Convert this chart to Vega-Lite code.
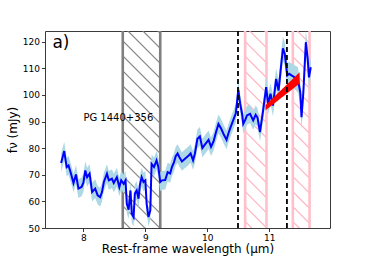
{
"$schema": "https://vega.github.io/schema/vega-lite/v6.json",
"width": 285, "height": 197,
"autosize": {"type": "none"},
"padding": {"left": 45, "top": 31, "right": 37, "bottom": 28},
"config": {
 "font": "DejaVu Sans",
 "view": {"stroke": "#3a3a3a", "strokeWidth": 1},
 "axis": {"domain": false, "grid": false, "tickColor": "#222", "tickSize": 3.5, "tickWidth": 0.9, "labelFontSize": 9, "labelColor": "#000", "titleFontSize": 12, "titleFontWeight": "normal", "titleColor": "#000", "labelPadding": 2, "labelOverlap": false}
},
"datasets": {
 "spec": [
  {"w":7.64,"f":74.4,"e":3.5},{"w":7.69,"f":78.9,"e":3.5},{"w":7.73,"f":72.9,"e":3.5},{"w":7.76,"f":73.5,"e":3.5},{"w":7.80,"f":70.4,"e":3.5},
  {"w":7.84,"f":66.9,"e":3.5},{"w":7.88,"f":70.1,"e":3.5},{"w":7.92,"f":64.8,"e":3.5},{"w":7.97,"f":65.4,"e":3.5},{"w":8.00,"f":67.0,"e":3.5},
  {"w":8.03,"f":71.6,"e":3.5},{"w":8.06,"f":69.1,"e":3.5},{"w":8.10,"f":70.4,"e":3.5},{"w":8.14,"f":63.5,"e":3.5},{"w":8.19,"f":64.8,"e":3.5},
  {"w":8.23,"f":62.3,"e":3.5},{"w":8.27,"f":61.6,"e":3.5},{"w":8.30,"f":63.5,"e":3.5},{"w":8.33,"f":67.3,"e":3.5},{"w":8.38,"f":70.4,"e":3.5},
  {"w":8.41,"f":67.9,"e":3.5},{"w":8.46,"f":68.5,"e":3.5},{"w":8.49,"f":66.9,"e":3.5},{"w":8.54,"f":69.1,"e":3.5},{"w":8.58,"f":65.4,"e":3.5},
  {"w":8.61,"f":67.9,"e":3.5},{"w":8.65,"f":66.6,"e":3.5},{"w":8.68,"f":67.9,"e":3.5},{"w":8.70,"f":59.1,"e":3.5},{"w":8.73,"f":56.9,"e":3.5},
  {"w":8.76,"f":64.1,"e":3.5},{"w":8.78,"f":55.4,"e":3.5},{"w":8.81,"f":54.1,"e":3.5},{"w":8.83,"f":62.9,"e":3.5},{"w":8.86,"f":64.1,"e":3.5},
  {"w":8.89,"f":61.0,"e":3.5},{"w":8.91,"f":66.0,"e":3.5},{"w":8.94,"f":69.1,"e":3.5},{"w":8.97,"f":67.3,"e":3.5},{"w":9.00,"f":67.9,"e":3.5},
  {"w":9.02,"f":59.1,"e":3.5},{"w":9.05,"f":54.1,"e":3.5},{"w":9.08,"f":56.6,"e":3.5},{"w":9.10,"f":74.1,"e":3.5},{"w":9.14,"f":72.9,"e":3.5},
  {"w":9.18,"f":75.4,"e":3.5},{"w":9.21,"f":72.9,"e":3.5},{"w":9.24,"f":67.3,"e":3.5},{"w":9.27,"f":67.9,"e":3.5},{"w":9.32,"f":68.0,"e":3.5},
  {"w":9.36,"f":71.0,"e":3.5},{"w":9.40,"f":70.5,"e":3.5},{"w":9.43,"f":73.0,"e":3.5},{"w":9.46,"f":74.5,"e":3.5},{"w":9.49,"f":77.0,"e":3.5},
  {"w":9.52,"f":78.0,"e":3.5},{"w":9.55,"f":76.6,"e":3.5},{"w":9.59,"f":75.0,"e":3.5},{"w":9.64,"f":76.0,"e":3.5},{"w":9.69,"f":77.0,"e":3.5},
  {"w":9.73,"f":78.0,"e":3.5},{"w":9.77,"f":75.4,"e":3.5},{"w":9.80,"f":78.0,"e":3.5},{"w":9.84,"f":83.5,"e":3.5},{"w":9.88,"f":84.4,"e":3.5},
  {"w":9.92,"f":80.0,"e":3.5},{"w":9.96,"f":81.3,"e":3.5},{"w":10.02,"f":83.1,"e":3.5},{"w":10.06,"f":80.5,"e":3.5},{"w":10.10,"f":82.5,"e":3.5},
  {"w":10.14,"f":86.0,"e":3.5},{"w":10.18,"f":89.1,"e":3.5},{"w":10.22,"f":87.5,"e":3.5},{"w":10.26,"f":85.4,"e":3.5},{"w":10.31,"f":83.1,"e":3.5},
  {"w":10.34,"f":85.5,"e":3.5},{"w":10.37,"f":87.5,"e":3.5},{"w":10.42,"f":90.6,"e":3.5},{"w":10.46,"f":93.1,"e":3.5},{"w":10.50,"f":101.9,"e":3.5},
  {"w":10.53,"f":96.6,"e":3.5},{"w":10.56,"f":93.0,"e":3.5},{"w":10.58,"f":89.1,"e":3.5},{"w":10.61,"f":90.5,"e":3.5},{"w":10.64,"f":92.3,"e":3.5},
  {"w":10.69,"f":92.9,"e":3.5},{"w":10.74,"f":90.4,"e":3.5},{"w":10.78,"f":92.5,"e":3.5},{"w":10.81,"f":91.5,"e":3.5},{"w":10.85,"f":86.0,"e":3.5},
  {"w":10.90,"f":94.1,"e":3.5},{"w":10.95,"f":102.9,"e":4},{"w":10.98,"f":96.6,"e":4},{"w":11.02,"f":100.4,"e":4},{"w":11.06,"f":96.0,"e":4},
  {"w":11.11,"f":106.0,"e":4},{"w":11.15,"f":101.6,"e":4},{"w":11.18,"f":108.5,"e":4.5},{"w":11.22,"f":117.5,"e":4.5},{"w":11.25,"f":115.4,"e":4.5},
  {"w":11.29,"f":107.3,"e":4.5},{"w":11.32,"f":107.9,"e":4.5},{"w":11.36,"f":107.3,"e":4.5},{"w":11.41,"f":106.6,"e":4.5},{"w":11.46,"f":106.0,"e":4.5},
  {"w":11.50,"f":101.0,"e":4.5},{"w":11.52,"f":91.6,"e":4.5},{"w":11.55,"f":101.0,"e":4.5},{"w":11.59,"f":119.8,"e":4.5},{"w":11.62,"f":113.5,"e":4.5},
  {"w":11.64,"f":106.6,"e":4.5},{"w":11.67,"f":110.4,"e":3.5}
 ],
 "fit": [{"w":10.94,"lo":94.2,"hi":96.2},{"w":11.49,"lo":104.3,"hi":108.5}],
 "grayreg": [{"x0":8.635,"x1":9.24}],
 "pink1": [{"x0":10.61,"x1":10.955}],
 "pink2": [{"x0":11.38,"x1":11.65}],
 "grayedge": [{"x":8.635},{"x":9.24}],
 "pinkedge": [{"x":10.61},{"x":10.955},{"x":11.38},{"x":11.65}],
 "dash": [{"x":10.495},{"x":11.285}]
},
"layer": [
 {"data": {"name": "grayreg"},
  "mark": {"type": "rect", "fill": {"gradient": "linear", "x1": 0, "y1": 1, "x2": 0.2187, "y2": -0.1487, "stops": [
   {"offset":0.0235,"color":"rgba(128,128,128,0)"},{"offset":0.030,"color":"rgba(128,128,128,1)"},{"offset":0.0365,"color":"rgba(128,128,128,0)"},
   {"offset":0.0875,"color":"rgba(128,128,128,0)"},{"offset":0.094,"color":"rgba(128,128,128,1)"},{"offset":0.1005,"color":"rgba(128,128,128,0)"},
   {"offset":0.1515,"color":"rgba(128,128,128,0)"},{"offset":0.158,"color":"rgba(128,128,128,1)"},{"offset":0.1645,"color":"rgba(128,128,128,0)"},
   {"offset":0.2155,"color":"rgba(128,128,128,0)"},{"offset":0.222,"color":"rgba(128,128,128,1)"},{"offset":0.2285,"color":"rgba(128,128,128,0)"},
   {"offset":0.2795,"color":"rgba(128,128,128,0)"},{"offset":0.286,"color":"rgba(128,128,128,1)"},{"offset":0.2925,"color":"rgba(128,128,128,0)"},
   {"offset":0.3435,"color":"rgba(128,128,128,0)"},{"offset":0.350,"color":"rgba(128,128,128,1)"},{"offset":0.3565,"color":"rgba(128,128,128,0)"},
   {"offset":0.4075,"color":"rgba(128,128,128,0)"},{"offset":0.414,"color":"rgba(128,128,128,1)"},{"offset":0.4205,"color":"rgba(128,128,128,0)"},
   {"offset":0.4715,"color":"rgba(128,128,128,0)"},{"offset":0.478,"color":"rgba(128,128,128,1)"},{"offset":0.4845,"color":"rgba(128,128,128,0)"},
   {"offset":0.5355,"color":"rgba(128,128,128,0)"},{"offset":0.542,"color":"rgba(128,128,128,1)"},{"offset":0.5485,"color":"rgba(128,128,128,0)"},
   {"offset":0.5995,"color":"rgba(128,128,128,0)"},{"offset":0.606,"color":"rgba(128,128,128,1)"},{"offset":0.6125,"color":"rgba(128,128,128,0)"},
   {"offset":0.6635,"color":"rgba(128,128,128,0)"},{"offset":0.670,"color":"rgba(128,128,128,1)"},{"offset":0.6765,"color":"rgba(128,128,128,0)"},
   {"offset":0.7275,"color":"rgba(128,128,128,0)"},{"offset":0.734,"color":"rgba(128,128,128,1)"},{"offset":0.7405,"color":"rgba(128,128,128,0)"},
   {"offset":0.7915,"color":"rgba(128,128,128,0)"},{"offset":0.798,"color":"rgba(128,128,128,1)"},{"offset":0.8045,"color":"rgba(128,128,128,0)"},
   {"offset":0.8555,"color":"rgba(128,128,128,0)"},{"offset":0.862,"color":"rgba(128,128,128,1)"},{"offset":0.8685,"color":"rgba(128,128,128,0)"},
   {"offset":0.9195,"color":"rgba(128,128,128,0)"},{"offset":0.926,"color":"rgba(128,128,128,1)"},{"offset":0.9325,"color":"rgba(128,128,128,0)"},
   {"offset":0.9835,"color":"rgba(128,128,128,0)"},{"offset":0.990,"color":"rgba(128,128,128,1)"},{"offset":0.9965,"color":"rgba(128,128,128,0)"}
  ]}},
  "encoding": {
   "x": {"field": "x0", "type": "quantitative", "scale": {"domain": [7.38, 11.98], "nice": false, "zero": false},
         "axis": {"values": [8, 9, 10, 11], "format": "d", "title": "Rest-frame wavelength (μm)", "titlePadding": 1}},
   "x2": {"field": "x1"},
   "y": {"datum": 50, "type": "quantitative", "scale": {"domain": [50, 124], "nice": false, "zero": false},
         "axis": {"values": [50, 60, 70, 80, 90, 100, 110, 120], "format": "d", "title": "fν (mJy)", "titlePadding": 3}},
   "y2": {"datum": 124}
  }},
 {"data": {"name": "pink1"},
  "mark": {"type": "rect", "fill": {"gradient": "linear", "x1": 0, "y1": 1, "x2": 0.119, "y2": -0.0957, "stops": [
   {"offset":0.023,"color":"rgba(255,170,185,0)"},{"offset":0.030,"color":"rgba(255,170,185,1)"},{"offset":0.037,"color":"rgba(255,170,185,0)"},
   {"offset":0.092,"color":"rgba(255,170,185,0)"},{"offset":0.099,"color":"rgba(255,170,185,1)"},{"offset":0.106,"color":"rgba(255,170,185,0)"},
   {"offset":0.160,"color":"rgba(255,170,185,0)"},{"offset":0.167,"color":"rgba(255,170,185,1)"},{"offset":0.174,"color":"rgba(255,170,185,0)"},
   {"offset":0.229,"color":"rgba(255,170,185,0)"},{"offset":0.236,"color":"rgba(255,170,185,1)"},{"offset":0.243,"color":"rgba(255,170,185,0)"},
   {"offset":0.298,"color":"rgba(255,170,185,0)"},{"offset":0.305,"color":"rgba(255,170,185,1)"},{"offset":0.312,"color":"rgba(255,170,185,0)"},
   {"offset":0.367,"color":"rgba(255,170,185,0)"},{"offset":0.374,"color":"rgba(255,170,185,1)"},{"offset":0.381,"color":"rgba(255,170,185,0)"},
   {"offset":0.435,"color":"rgba(255,170,185,0)"},{"offset":0.442,"color":"rgba(255,170,185,1)"},{"offset":0.449,"color":"rgba(255,170,185,0)"},
   {"offset":0.504,"color":"rgba(255,170,185,0)"},{"offset":0.511,"color":"rgba(255,170,185,1)"},{"offset":0.518,"color":"rgba(255,170,185,0)"},
   {"offset":0.573,"color":"rgba(255,170,185,0)"},{"offset":0.580,"color":"rgba(255,170,185,1)"},{"offset":0.587,"color":"rgba(255,170,185,0)"},
   {"offset":0.641,"color":"rgba(255,170,185,0)"},{"offset":0.648,"color":"rgba(255,170,185,1)"},{"offset":0.655,"color":"rgba(255,170,185,0)"},
   {"offset":0.710,"color":"rgba(255,170,185,0)"},{"offset":0.717,"color":"rgba(255,170,185,1)"},{"offset":0.724,"color":"rgba(255,170,185,0)"},
   {"offset":0.779,"color":"rgba(255,170,185,0)"},{"offset":0.786,"color":"rgba(255,170,185,1)"},{"offset":0.793,"color":"rgba(255,170,185,0)"},
   {"offset":0.847,"color":"rgba(255,170,185,0)"},{"offset":0.854,"color":"rgba(255,170,185,1)"},{"offset":0.861,"color":"rgba(255,170,185,0)"},
   {"offset":0.916,"color":"rgba(255,170,185,0)"},{"offset":0.923,"color":"rgba(255,170,185,1)"},{"offset":0.930,"color":"rgba(255,170,185,0)"},
   {"offset":0.985,"color":"rgba(255,170,185,0)"},{"offset":0.992,"color":"rgba(255,170,185,1)"},{"offset":0.999,"color":"rgba(255,170,185,0)"}
  ]}},
  "encoding": {
   "x": {"field": "x0", "type": "quantitative", "scale": {"domain": [7.38, 11.98], "nice": false, "zero": false},
         "axis": {"values": [8, 9, 10, 11], "format": "d", "title": "Rest-frame wavelength (μm)", "titlePadding": 1}},
   "x2": {"field": "x1"},
   "y": {"datum": 50, "type": "quantitative", "scale": {"domain": [50, 124], "nice": false, "zero": false},
         "axis": {"values": [50, 60, 70, 80, 90, 100, 110, 120], "format": "d", "title": "fν (mJy)", "titlePadding": 3}},
   "y2": {"datum": 124}
  }},
 {"data": {"name": "pink2"},
  "mark": {"type": "rect", "fill": {"gradient": "linear", "x1": 0, "y1": 1, "x2": 0.0913, "y2": -0.077, "stops": [
   {"offset":0.023,"color":"rgba(255,170,185,0)"},{"offset":0.030,"color":"rgba(255,170,185,1)"},{"offset":0.037,"color":"rgba(255,170,185,0)"},
   {"offset":0.093,"color":"rgba(255,170,185,0)"},{"offset":0.100,"color":"rgba(255,170,185,1)"},{"offset":0.107,"color":"rgba(255,170,185,0)"},
   {"offset":0.163,"color":"rgba(255,170,185,0)"},{"offset":0.170,"color":"rgba(255,170,185,1)"},{"offset":0.177,"color":"rgba(255,170,185,0)"},
   {"offset":0.234,"color":"rgba(255,170,185,0)"},{"offset":0.241,"color":"rgba(255,170,185,1)"},{"offset":0.248,"color":"rgba(255,170,185,0)"},
   {"offset":0.304,"color":"rgba(255,170,185,0)"},{"offset":0.311,"color":"rgba(255,170,185,1)"},{"offset":0.318,"color":"rgba(255,170,185,0)"},
   {"offset":0.374,"color":"rgba(255,170,185,0)"},{"offset":0.381,"color":"rgba(255,170,185,1)"},{"offset":0.388,"color":"rgba(255,170,185,0)"},
   {"offset":0.444,"color":"rgba(255,170,185,0)"},{"offset":0.451,"color":"rgba(255,170,185,1)"},{"offset":0.458,"color":"rgba(255,170,185,0)"},
   {"offset":0.514,"color":"rgba(255,170,185,0)"},{"offset":0.521,"color":"rgba(255,170,185,1)"},{"offset":0.528,"color":"rgba(255,170,185,0)"},
   {"offset":0.585,"color":"rgba(255,170,185,0)"},{"offset":0.592,"color":"rgba(255,170,185,1)"},{"offset":0.599,"color":"rgba(255,170,185,0)"},
   {"offset":0.655,"color":"rgba(255,170,185,0)"},{"offset":0.662,"color":"rgba(255,170,185,1)"},{"offset":0.669,"color":"rgba(255,170,185,0)"},
   {"offset":0.725,"color":"rgba(255,170,185,0)"},{"offset":0.732,"color":"rgba(255,170,185,1)"},{"offset":0.739,"color":"rgba(255,170,185,0)"},
   {"offset":0.795,"color":"rgba(255,170,185,0)"},{"offset":0.802,"color":"rgba(255,170,185,1)"},{"offset":0.809,"color":"rgba(255,170,185,0)"},
   {"offset":0.865,"color":"rgba(255,170,185,0)"},{"offset":0.872,"color":"rgba(255,170,185,1)"},{"offset":0.879,"color":"rgba(255,170,185,0)"},
   {"offset":0.936,"color":"rgba(255,170,185,0)"},{"offset":0.943,"color":"rgba(255,170,185,1)"},{"offset":0.950,"color":"rgba(255,170,185,0)"}
  ]}},
  "encoding": {
   "x": {"field": "x0", "type": "quantitative", "scale": {"domain": [7.38, 11.98], "nice": false, "zero": false},
         "axis": {"values": [8, 9, 10, 11], "format": "d", "title": "Rest-frame wavelength (μm)", "titlePadding": 1}},
   "x2": {"field": "x1"},
   "y": {"datum": 50, "type": "quantitative", "scale": {"domain": [50, 124], "nice": false, "zero": false},
         "axis": {"values": [50, 60, 70, 80, 90, 100, 110, 120], "format": "d", "title": "fν (mJy)", "titlePadding": 3}},
   "y2": {"datum": 124}
  }},
 {"data": {"name": "grayedge"},
  "mark": {"type": "rule", "color": "#7f7f7f", "strokeWidth": 2.6},
  "encoding": {"x": {"field": "x", "type": "quantitative", "scale": {"domain": [7.38, 11.98], "nice": false, "zero": false},
         "axis": {"values": [8, 9, 10, 11], "format": "d", "title": "Rest-frame wavelength (μm)", "titlePadding": 1}}}},
 {"data": {"name": "pinkedge"},
  "mark": {"type": "rule", "color": "#ffc0cb", "strokeWidth": 2.6},
  "encoding": {"x": {"field": "x", "type": "quantitative", "scale": {"domain": [7.38, 11.98], "nice": false, "zero": false},
         "axis": {"values": [8, 9, 10, 11], "format": "d", "title": "Rest-frame wavelength (μm)", "titlePadding": 1}}}},
 {"data": {"name": "spec"},
  "mark": {"type": "errorband", "color": "#add8e6", "opacity": 1},
  "encoding": {
   "x": {"field": "w", "type": "quantitative", "scale": {"domain": [7.38, 11.98], "nice": false, "zero": false},
         "axis": {"values": [8, 9, 10, 11], "format": "d", "title": "Rest-frame wavelength (μm)", "titlePadding": 1}},
   "y": {"field": "f", "type": "quantitative", "scale": {"domain": [50, 124], "nice": false, "zero": false},
         "axis": {"values": [50, 60, 70, 80, 90, 100, 110, 120], "format": "d", "title": "fν (mJy)", "titlePadding": 3}},
   "yError": {"field": "e"}
  }},
 {"data": {"name": "spec"},
  "mark": {"type": "line", "color": "#0000ff", "strokeWidth": 2},
  "encoding": {
   "x": {"field": "w", "type": "quantitative", "scale": {"domain": [7.38, 11.98], "nice": false, "zero": false},
         "axis": {"values": [8, 9, 10, 11], "format": "d", "title": "Rest-frame wavelength (μm)", "titlePadding": 1}},
   "y": {"field": "f", "type": "quantitative", "scale": {"domain": [50, 124], "nice": false, "zero": false},
         "axis": {"values": [50, 60, 70, 80, 90, 100, 110, 120], "format": "d", "title": "fν (mJy)", "titlePadding": 3}}
  }},
 {"data": {"name": "fit"},
  "mark": {"type": "area", "color": "#ff0000"},
  "encoding": {
   "x": {"field": "w", "type": "quantitative", "scale": {"domain": [7.38, 11.98], "nice": false, "zero": false},
         "axis": {"values": [8, 9, 10, 11], "format": "d", "title": "Rest-frame wavelength (μm)", "titlePadding": 1}},
   "y": {"field": "lo", "type": "quantitative", "scale": {"domain": [50, 124], "nice": false, "zero": false},
         "axis": {"values": [50, 60, 70, 80, 90, 100, 110, 120], "format": "d", "title": "fν (mJy)", "titlePadding": 3}},
   "y2": {"field": "hi"}
  }},
 {"data": {"name": "dash"},
  "mark": {"type": "rule", "color": "#000000", "strokeWidth": 1.8, "strokeDash": [5, 3]},
  "encoding": {"x": {"field": "x", "type": "quantitative", "scale": {"domain": [7.38, 11.98], "nice": false, "zero": false},
         "axis": {"values": [8, 9, 10, 11], "format": "d", "title": "Rest-frame wavelength (μm)", "titlePadding": 1}}}},
 {"data": {"values": [{"t": "a)"}]},
  "mark": {"type": "text", "fontSize": 17, "align": "left", "baseline": "alphabetic", "color": "#000"},
  "encoding": {
   "x": {"datum": 7.5, "type": "quantitative", "scale": {"domain": [7.38, 11.98], "nice": false, "zero": false},
         "axis": {"values": [8, 9, 10, 11], "format": "d", "title": "Rest-frame wavelength (μm)", "titlePadding": 1}},
   "y": {"datum": 117.8, "type": "quantitative", "scale": {"domain": [50, 124], "nice": false, "zero": false},
         "axis": {"values": [50, 60, 70, 80, 90, 100, 110, 120], "format": "d", "title": "fν (mJy)", "titlePadding": 3}},
   "text": {"field": "t"}
  }},
 {"data": {"values": [{"t": "PG 1440+356"}]},
  "mark": {"type": "text", "fontSize": 10, "align": "left", "baseline": "alphabetic", "color": "#000"},
  "encoding": {
   "x": {"datum": 8.0, "type": "quantitative", "scale": {"domain": [7.38, 11.98], "nice": false, "zero": false},
         "axis": {"values": [8, 9, 10, 11], "format": "d", "title": "Rest-frame wavelength (μm)", "titlePadding": 1}},
   "y": {"datum": 90.1, "type": "quantitative", "scale": {"domain": [50, 124], "nice": false, "zero": false},
         "axis": {"values": [50, 60, 70, 80, 90, 100, 110, 120], "format": "d", "title": "fν (mJy)", "titlePadding": 3}},
   "text": {"field": "t"}
  }}
]
}
